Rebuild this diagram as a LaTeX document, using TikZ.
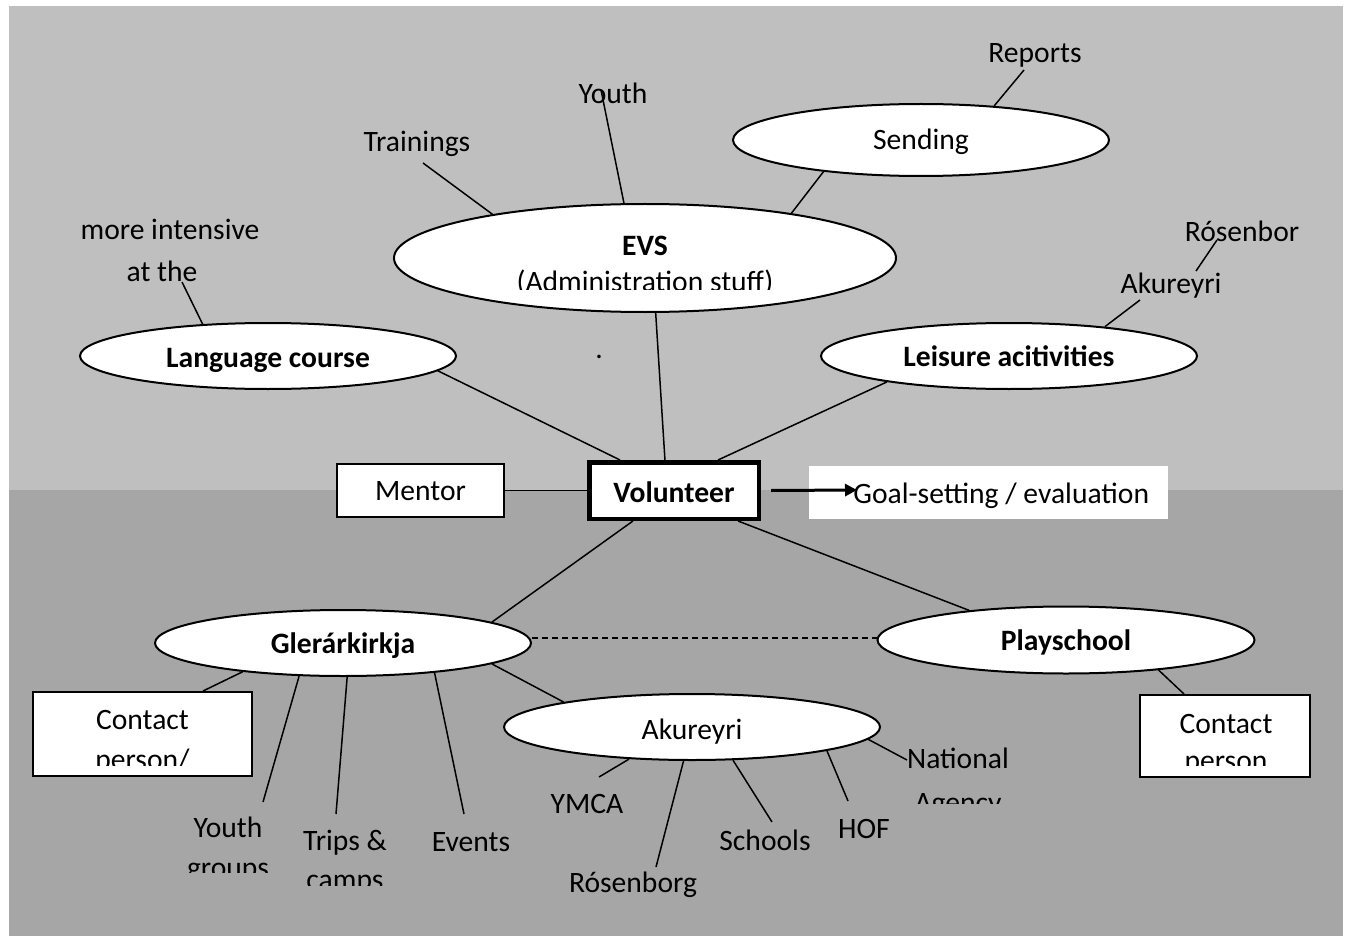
\documentclass[tikz,border=0pt]{standalone}
\usepackage{fontspec}
\setmainfont{Carlito}
\usetikzlibrary{shapes.geometric,arrows.meta,calc}
\definecolor{bgtop}{HTML}{BFBFBF}
\definecolor{bgbot}{HTML}{A6A6A6}
\begin{document}
\begin{tikzpicture}[x=0.5pt,y=-0.5pt,
  txt/.style={anchor=base, inner sep=0pt, font=\fontsize{14.8}{17}\selectfont},
  btxt/.style={anchor=base, inner sep=0pt, font=\fontsize{14.8}{17}\selectfont\bfseries},
  oval/.style={ellipse, draw, fill=white, line width=1pt, inner sep=0pt},
  box/.style={rectangle, draw, fill=white, line width=1pt, inner sep=0pt},
  conn/.style={line width=0.75pt}]
\useasboundingbox (0,0) rectangle (1348,936);
\fill[bgtop] (9,6) rectangle (1343,490);
\fill[bgbot] (9,490) rectangle (1343,936);

% ellipses
\node[oval, minimum width=188pt, minimum height=36pt] (send) at (921,140) {};
\node[oval, minimum width=251pt, minimum height=54pt] (evs) at (645,258) {};
\node[oval, minimum width=188pt, minimum height=33pt] (lang) at (268,356) {};
\node[oval, minimum width=188pt, minimum height=33pt] (leis) at (1009,356) {};
\node[oval, minimum width=188pt, minimum height=33pt] (gler) at (343,643) {};
\node[oval, minimum width=188.5pt, minimum height=33.5pt] (play) at (1066,640) {};
\node[oval, minimum width=188pt, minimum height=33pt] (akur) at (692,727) {};

% boxes
\node[box, line width=2.25pt, minimum width=84.75pt, minimum height=28.25pt] (vol) at (674,490.5) {};
\node[box, minimum width=83.5pt, minimum height=26.5pt] (mentor) at (420.5,490.5) {};
\node[rectangle, fill=white, inner sep=0pt, minimum width=179.5pt, minimum height=26.5pt] (goal) at (988.5,492.5) {};
\node[box, minimum width=109.5pt, minimum height=42pt] (cl) at (142.5,734) {};
\node[box, minimum width=85pt, minimum height=41pt] (cr) at (1225,735.5) {};

% texts
\node[txt] (reports) at (1035,63) {Reports};
\node[txt] (sendT) at (921,150) {Sending};
\node[txt] (youthT) at (613,104) {Youth};
\node[txt] (train) at (417,152) {Trainings};
\node[btxt] (evsT) at (645,256) {EVS};
\begin{scope}
  \clip (394,200) rectangle (897,289);
  \node[txt] (adminT) at (645,291.5) {(Administration stuff)};
\end{scope}
\node[txt] (dot) at (599,358) {.};
\node[txt] (intens) at (170,240) {more intensive};
\node[txt] (atthe) at (162,281) {at the};
\node[btxt] (langT) at (268,367) {Language course};
\node[txt] (rosen1) at (1242,242) {Rósenbor};
\node[txt] (akur1) at (1171,293) {Akureyri};
\node[btxt] (leisT) at (1009,366) {Leisure acitivities};
\node[txt] (mentorT) at (420.5,500) {Mentor};
\node[btxt] (volT) at (674,502) {Volunteer};
\node[txt, anchor=base west] (goalT) at (853,503) {Goal-setting / evaluation};
\node[btxt] (glerT) at (343,653) {Glerárkirkja};
\node[btxt] (playT) at (1066,650) {Playschool};
\node[txt] (clT) at (142.5,729) {Contact};
\begin{scope}
  \clip (40,700) rectangle (245,765);
  \node[txt] (clT2) at (142.5,769) {person/};
\end{scope}
\node[txt] (crT) at (1226,733) {Contact};
\begin{scope}
  \clip (1145,700) rectangle (1305,765);
  \node[txt] (crT2) at (1226,770) {person};
\end{scope}
\node[txt] (youthG) at (228,837) {Youth};
\begin{scope}
  \clip (150,845) rectangle (310,872);
  \node[txt] (youthG2) at (228,877) {groups};
\end{scope}
\node[txt] (trips) at (345,850) {Trips \&};
\begin{scope}
  \clip (280,858) rectangle (410,885);
  \node[txt] (trips2) at (345,889) {camps};
\end{scope}
\node[txt] (events) at (471,851) {Events};
\node[txt] (akurT) at (692,739) {Akureyri};
\node[txt] (ymca) at (587,813) {YMCA};
\node[txt] (rosen2) at (633,892) {Rósenborg};
\node[txt] (schools) at (765,850) {Schools};
\node[txt] (hof) at (864,838) {HOF};
\node[txt] (natl) at (958,768) {National};
\begin{scope}
  \clip (900,775) rectangle (1020,803);
  \node[txt] (natl2) at (958,812) {Agency};
\end{scope}

% free ends of connectors
\coordinate (cReports) at (1024,70);
\coordinate (cYouth) at (601,90);
\coordinate (cTrain) at (423,163);
\coordinate (cIntens) at (182,282);
\coordinate (cRosen) at (1217,240);
\coordinate (cAkurTop) at (1196,271);
\coordinate (cAkur) at (1140,300);
\coordinate (cClBox) at (203,691);
\coordinate (cYouthG) at (263,802);
\coordinate (cTrips) at (336,814);
\coordinate (cEvents) at (464,814);
\coordinate (cYmca) at (599,777);
\coordinate (cRosen2) at (656,867);
\coordinate (cSchools) at (772,822);
\coordinate (cHof) at (848,801);
\coordinate (cNatl) at (907,760);
\coordinate (cCrBox) at (1184,694);
\coordinate (cArrow) at (857,490);

% connectors
\draw[conn] (cReports) -- (send.25);
\draw[conn] (send.-162) -- (evs.17.5);
\draw[conn] (cYouth) -- (evs.111);
\draw[conn] (cTrain) -- (evs.164.7);
\draw[conn] (evs.-79) -- ($(vol.north west)!0.448!(vol.north east)$);
\draw[conn] (cIntens) -- (lang.154);
\draw[conn] (lang.-5.5) -- ($(vol.north west)!0.19!(vol.north east)$);
\draw[conn] (cRosen) -- (cAkurTop);
\draw[conn] (cAkur) -- (leis.17);
\draw[conn] (leis.-168.8) -- ($(vol.north west)!0.753!(vol.north east)$);
\draw[conn] (mentor.east) -- (vol.west);
\draw[line width=1.5pt, -{Triangle[length=6pt,width=6pt]}] ($(vol.east)+(10,0)$) -- (cArrow);
\draw[conn] ($(vol.south west)!0.264!(vol.south east)$) -- (gler.8);
\draw[conn] ($(vol.south west)!0.868!(vol.south east)$) -- (play.163);
\draw[conn, dashed, dash pattern=on 3pt off 2pt] (gler.east |- 0,638) -- (play.west |- 0,638);
\draw[conn] (gler.-164.8) -- (cClBox);
\draw[conn] (gler.-143.9) -- (cYouthG);
\draw[conn] (gler.-83.1) -- (cTrips);
\draw[conn] (gler.-18.6) -- (cEvents);
\draw[conn] (gler.-8.3) -- (akur.169.2);
\draw[conn] (akur.-153.8) -- (cYmca);
\draw[conn] (akur.-104.8) -- (cRosen2);
\draw[conn] (akur.-39.7) -- (cSchools);
\draw[conn] (akur.-10.9) -- (cHof);
\draw[conn] (akur.-4.2) -- (cNatl);
\draw[conn] (play.-18.6) -- (cCrBox);
\end{tikzpicture}
\end{document}
